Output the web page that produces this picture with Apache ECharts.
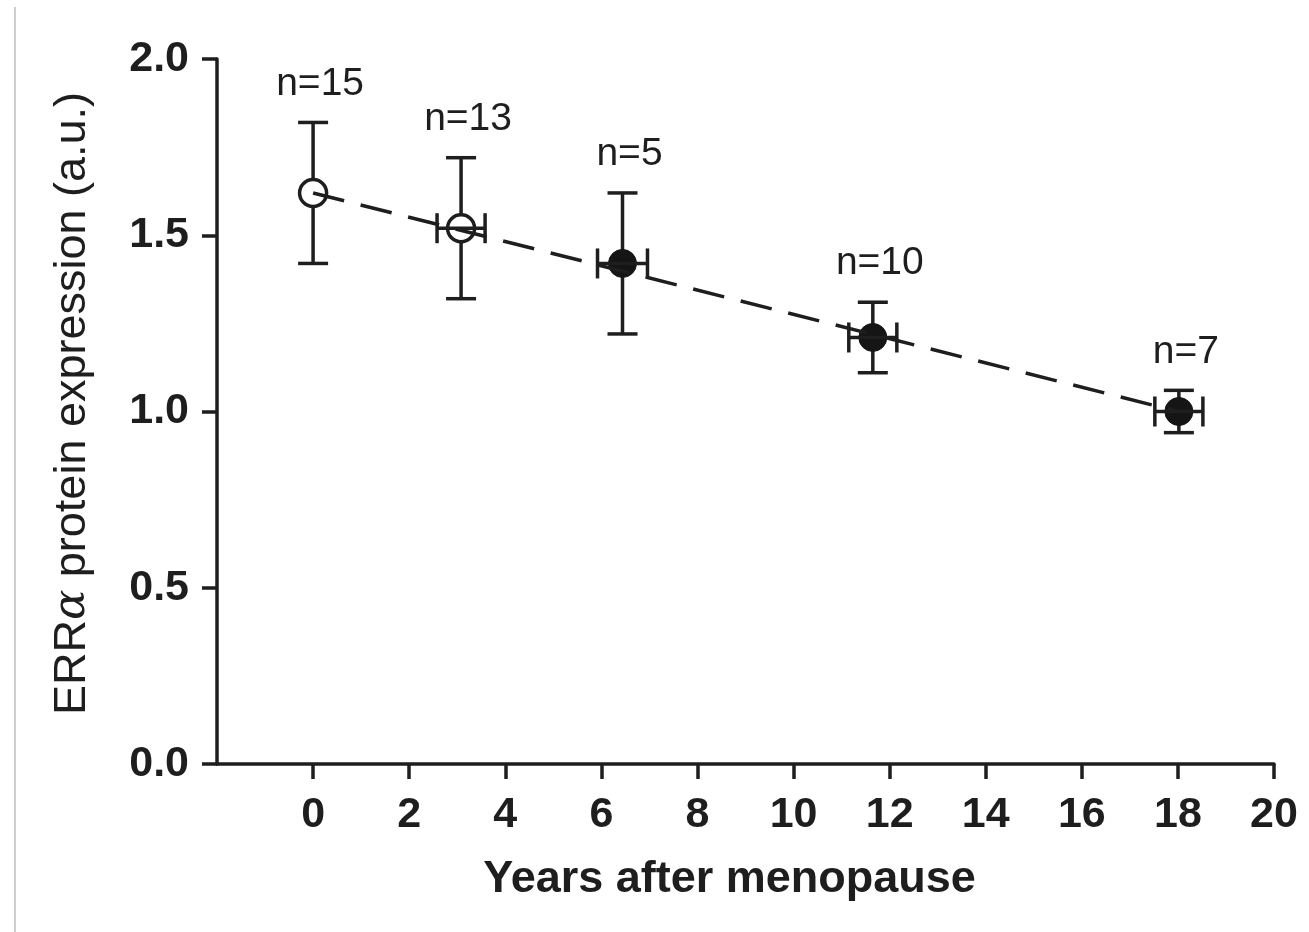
<!DOCTYPE html>
<html>
<head>
<meta charset="utf-8">
<script src="https://cdn.jsdelivr.net/npm/echarts@6/dist/echarts.min.js"></script>
<style>
  html, body { margin: 0; padding: 0; background: #ffffff; }
  #chart { width: 1309px; height: 932px; }
</style>
</head>
<body>
<div id="chart"></div>
<script>
// ---- data ----
const years      = [0, 3.08, 6.44, 11.65, 18.02];
const expression = [1.62, 1.52, 1.42, 1.21, 1.00];
const yErr       = [0.20, 0.20, 0.20, 0.10, 0.06];
const xErr       = [0, 0.50, 0.52, 0.50, 0.50];
const nLabels    = ['n=15', 'n=13', 'n=5', 'n=10', 'n=7'];
const openMarker = [true, true, false, false, false];
const fitX       = [0, 18];
const fitY       = [1.62, 1.00];
const xTicks     = [0, 2, 4, 6, 8, 10, 12, 14, 16, 18, 20];
const yTicks     = [0, 0.5, 1.0, 1.5, 2.0];

const INK = '#1e1e1e';
const FONT = '"Liberation Sans", Arial, Helvetica, sans-serif';
const LW = 3.5;

const yErrData = years.map((x, i) => [x, expression[i] - yErr[i], expression[i] + yErr[i]]);
const xErrData = years
  .map((x, i) => [x - xErr[i], expression[i], x + xErr[i]])
  .filter((d, i) => xErr[i] > 0);
const openData = years.map((x, i) => [x, expression[i]]).filter((d, i) => openMarker[i]);
const filledData = years.map((x, i) => [x, expression[i]]).filter((d, i) => !openMarker[i]);
const labelData = years.map((x, i) => ({ value: [x, expression[i] + yErr[i]], name: nLabels[i] }));
const fitData = fitX.map((x, i) => [x, fitY[i]]);

const CAP = 15;
function renderYErr(params, api) {
  const x = api.value(0), lo = api.value(1), hi = api.value(2);
  const a = api.coord([x, lo]), b = api.coord([x, hi]);
  const st = { stroke: INK, lineWidth: LW };
  return { type: 'group', children: [
    { type: 'line', shape: { x1: a[0], y1: a[1], x2: b[0], y2: b[1] }, style: st },
    { type: 'line', shape: { x1: a[0] - CAP, y1: a[1], x2: a[0] + CAP, y2: a[1] }, style: st },
    { type: 'line', shape: { x1: b[0] - CAP, y1: b[1], x2: b[0] + CAP, y2: b[1] }, style: st }
  ]};
}
function renderXErr(params, api) {
  const lo = api.value(0), y = api.value(1), hi = api.value(2);
  const a = api.coord([lo, y]), b = api.coord([hi, y]);
  const st = { stroke: INK, lineWidth: LW };
  return { type: 'group', children: [
    { type: 'line', shape: { x1: a[0], y1: a[1], x2: b[0], y2: b[1] }, style: st },
    { type: 'line', shape: { x1: a[0], y1: a[1] - CAP, x2: a[0], y2: a[1] + CAP }, style: st },
    { type: 'line', shape: { x1: b[0], y1: b[1] - CAP, x2: b[0], y2: b[1] + CAP }, style: st }
  ]};
}

const chart = echarts.init(document.getElementById('chart'), null, { renderer: 'canvas' });
chart.setOption({
  backgroundColor: '#ffffff',
  animation: false,
  graphic: [{
    type: 'rect', left: 14, top: 7, shape: { width: 2, height: 925 },
    style: { fill: '#cfcfcf' }, silent: true
  }],
  grid: { left: 217, right: 35, top: 59, bottom: 168, containLabel: false },
  xAxis: {
    type: 'value', min: -2, max: 20, interval: 2,
    name: 'Years after menopause',
    nameLocation: 'middle', nameGap: 93,
    nameTextStyle: { fontFamily: FONT, fontSize: 45, fontWeight: 'bold', color: INK, padding: [0, 32, 0, 0] },
    axisLine: { show: true, onZero: false, lineStyle: { color: INK, width: LW } },
    axisTick: { show: true, length: 15, customValues: xTicks, lineStyle: { color: INK, width: LW } },
    axisLabel: { customValues: xTicks, margin: 30, fontFamily: FONT, fontSize: 43, fontWeight: 'bold', color: INK },
    splitLine: { show: false }
  },
  yAxis: {
    type: 'value', min: 0, max: 2, interval: 0.5,
    name: '{a|ERR}{b|α}{a| protein expression (a.u.)}',
    nameLocation: 'middle', nameGap: 122, nameRotate: 90,
    nameTextStyle: {
      fontFamily: FONT, fontSize: 45, color: INK, padding: [0, 0, 0, 16],
      rich: {
        a: { fontFamily: FONT, fontSize: 45, color: INK },
        b: { fontFamily: '"DejaVu Serif", "Liberation Serif", serif', fontStyle: 'italic', fontSize: 45, color: INK }
      }
    },
    axisLine: { show: true, onZero: false, lineStyle: { color: INK, width: LW } },
    axisTick: { show: true, length: 15, customValues: yTicks, lineStyle: { color: INK, width: LW } },
    axisLabel: {
      customValues: yTicks, margin: 28, fontFamily: FONT, fontSize: 43, fontWeight: 'bold', color: INK,
      formatter: v => v.toFixed(1)
    },
    splitLine: { show: false }
  },
  series: [
    {
      type: 'custom', name: 'yerr', renderItem: renderYErr, data: yErrData,
      encode: { x: [0], y: [1, 2] }, z: 2, silent: true
    },
    {
      type: 'scatter', name: 'open', data: openData, symbol: 'circle', symbolSize: 27,
      itemStyle: { color: '#ffffff', borderColor: INK, borderWidth: LW, opacity: 1 }, z: 3
    },
    {
      type: 'scatter', name: 'filled', data: filledData, symbol: 'circle', symbolSize: 28,
      itemStyle: { color: '#151515', borderColor: '#151515', borderWidth: 1, opacity: 1 }, z: 3
    },
    {
      type: 'custom', name: 'xerr', renderItem: renderXErr, data: xErrData,
      encode: { x: [0, 2], y: [1] }, z: 4, silent: true
    },
    {
      type: 'line', name: 'fit', data: fitData, symbol: 'none', z: 5,
      lineStyle: { color: INK, width: LW, type: [32, 17] }
    },
    {
      type: 'scatter', name: 'n', data: labelData, symbolSize: 0, z: 6,
      itemStyle: { opacity: 1 },
      label: {
        show: true, position: 'top', distance: 19, offset: [7, 0],
        formatter: p => p.name,
        fontFamily: FONT, fontSize: 39, color: INK
      }
    }
  ]
});
</script>
</body>
</html>
